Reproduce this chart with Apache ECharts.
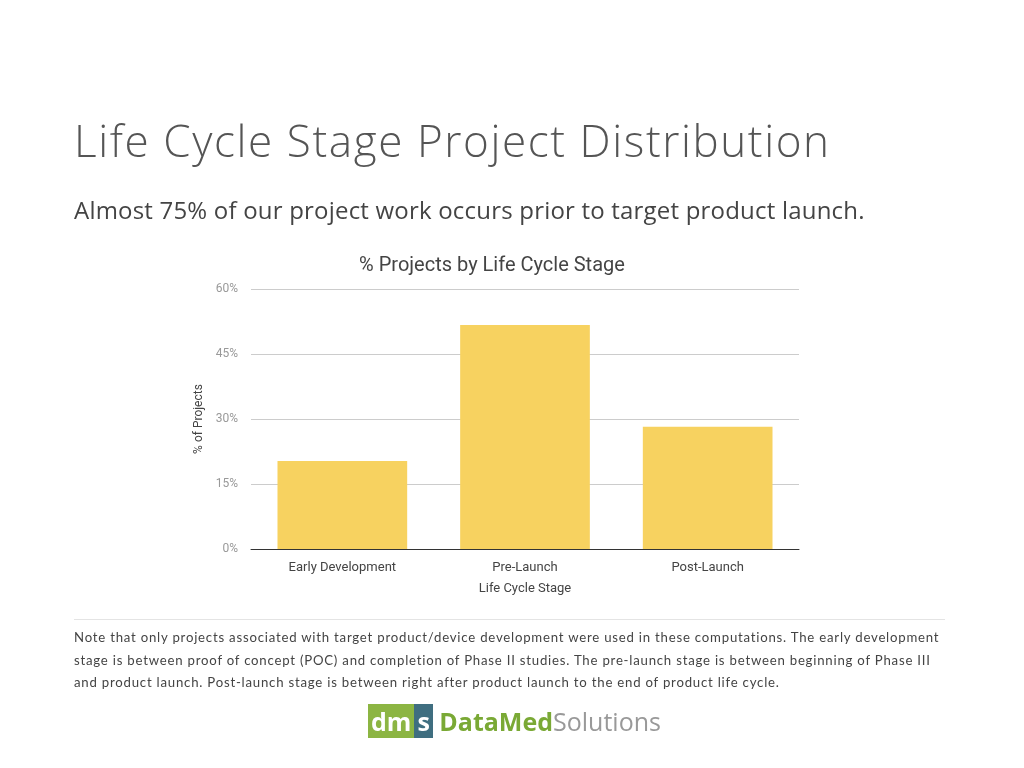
<!DOCTYPE html>
<html lang="en">
<head>
  <meta charset="UTF-8">
  <title>Life Cycle Stage Project Distribution</title>
  <script src="https://cdn.jsdelivr.net/npm/echarts@6/dist/echarts.min.js"></script>
  <style>
    body { margin: 0; background: #fff; }
    #page { position: relative; width: 1024px; height: 768px; overflow: hidden; }
    #chart { position: absolute; left: 0; top: 0; width: 1024px; height: 768px; }
    .txt { position: absolute; left: 74px; font-family: Lato, "Open Sans", sans-serif; }
    #title { top: 110px; font-size: 44px; color: #555; font-weight: 300; letter-spacing: 1.6px; font-family: "Open Sans", sans-serif; }
    #sub { top: 193px; font-size: 24px; color: #444; font-family: "Open Sans", sans-serif; font-weight: 500; letter-spacing: 0.2px; }
    #rule { position: absolute; left: 74px; top: 619px; width: 871px; border-top: 1px solid #e4e4e4; }
    #note { top: 626px; width: 940px; font-size: 13.2px; line-height: 22.5px; color: #444; letter-spacing: 0.78px; white-space: nowrap; }
    #logo { position: absolute; left: 368px; top: 704px; font-family: "Open Sans", sans-serif; font-size: 25px; font-weight: 700; }
  </style>
</head>
<body>
<div id="page">
  <div id="chart"></div>
  <div class="txt" id="title">Life Cycle Stage Project Distribution</div>
  <div class="txt" id="sub">Almost 75% of our project work occurs prior to target product launch.</div>
  <div id="rule"></div>
  <div class="txt" id="note">Note that only projects associated with target product/device development were used in these computations. The early development<br>stage is between proof of concept (POC) and completion of Phase II studies. The pre-launch stage is between beginning of Phase III<br>and product launch. Post-launch stage is between right after product launch to the end of product life cycle.</div>
  <div id="logo"><span style="background:#8cb543;color:#fff;padding:0 3px;">dm</span><span style="background:#3f6e80;color:#fff;padding:0 3px;">s</span> <span style="color:#7aa935">DataMed</span><span style="color:#999;font-weight:400">Solutions</span></div>
</div>
<script type="text/javascript">
  let stages = ['Early Development', 'Pre-Launch', 'Post-Launch'];
  let shares = [20.3, 51.7, 28.2];
  let yTicks = [0, 15, 30, 45, 60];

  let chart = echarts.init(document.getElementById('chart'));
  chart.setOption({
    animation: false,
    title: {
      text: '% Projects by Life Cycle Stage',
      left: 487, top: 251, textAlign: 'center',
      textStyle: { fontFamily: 'Roboto, sans-serif', fontSize: 20, fontWeight: 'normal', color: '#444' }
    },
    grid: { left: 251, right: 225, top: 289, bottom: 219 },
    xAxis: {
      type: 'category',
      data: stages,
      name: 'Life Cycle Stage',
      nameLocation: 'middle',
      nameGap: 33,
      nameTextStyle: { fontFamily: 'Roboto, sans-serif', fontSize: 13, color: '#444' },
      axisTick: { show: false },
      axisLine: { lineStyle: { color: '#333' } },
      axisLabel: { fontFamily: 'Roboto, sans-serif', fontSize: 13, color: '#444', margin: 12 }
    },
    yAxis: {
      type: 'value',
      min: yTicks[0], max: yTicks[yTicks.length - 1], interval: 15,
      name: '% of Projects',
      nameLocation: 'middle',
      nameGap: 45,
      nameTextStyle: { fontFamily: 'Roboto, sans-serif', fontSize: 12, color: '#444' },
      axisLabel: { formatter: '{value}%', fontFamily: 'Roboto, sans-serif', fontSize: 12, color: '#999', margin: 13 },
      splitLine: { lineStyle: { color: '#ccc' } }
    },
    series: [{
      type: 'bar',
      data: shares,
      barWidth: '71%',
      itemStyle: { color: '#f7d260' }
    }]
  });
</script>
</body>
</html>
